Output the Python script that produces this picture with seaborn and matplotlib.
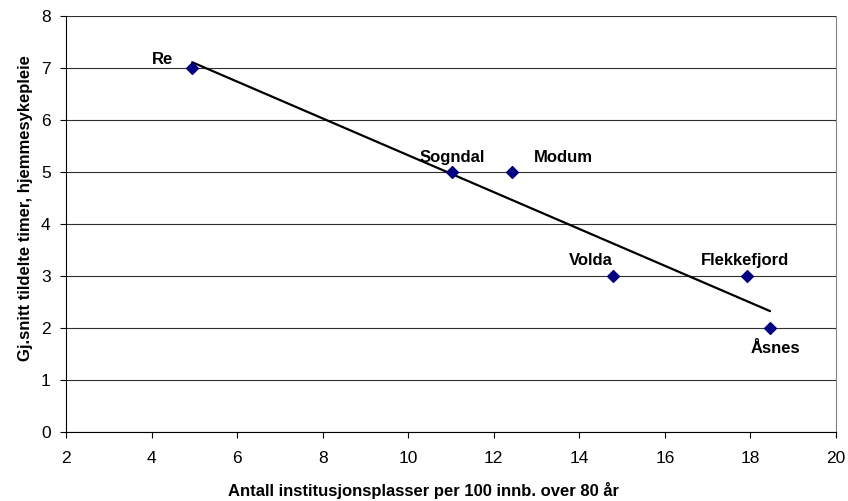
import pandas as pd
import seaborn as sns
import matplotlib.pyplot as plt

kommuner = ["Re", "Sogndal", "Modum", "Volda", "Flekkefjord", "Åsnes"]
plasser = [4.95, 11.02, 12.43, 14.79, 17.92, 18.46]  # institusjonsplasser per 100 innb. over 80 år
timer = [7, 5, 5, 3, 3, 2]  # gj.snitt tildelte timer hjemmesykepleie

df = pd.DataFrame({"kommune": kommuner, "plasser": plasser, "timer": timer})

sns.set_style("white")
plt.rcParams["font.family"] = ["Liberation Sans", "DejaVu Sans"]
plt.rcParams["text.color"] = "black"
plt.rcParams["xtick.color"] = "black"
plt.rcParams["ytick.color"] = "black"
plt.rcParams["axes.labelcolor"] = "black"

fig = plt.figure(figsize=(8.48, 5.01), dpi=100)
ax = fig.add_axes([0.0778, 0.1377, 0.908, 0.8303])

sns.regplot(data=df, x="plasser", y="timer", ax=ax, ci=None, truncate=True,
            marker="D", scatter_kws={"color": "#000080", "edgecolor": "#000080",
                                     "alpha": 1, "s": 36, "zorder": 3},
            line_kws={"color": "black", "lw": 1.6, "zorder": 2})

# etiketter (forskyvning i piksler)
offsets = {"Re": (-30, 9), "Sogndal": (0, 15), "Modum": (51, 15),
           "Volda": (-22, 16), "Flekkefjord": (-2, 16), "Åsnes": (5, -20)}
for k, x, y in zip(kommuner, plasser, timer):
    ax.annotate(k, (x, y), xytext=offsets[k], textcoords="offset pixels",
                ha="center", va="center", fontsize=12, fontweight="bold")

ax.set_xlim(2, 20)
ax.set_ylim(0, 8)
ax.set_xticks(range(2, 21, 2))
ax.set_yticks(range(0, 9))
ax.yaxis.grid(True, color="#303030", lw=0.8)
ax.set_axisbelow(True)
for s in ["left", "bottom"]:
    ax.spines[s].set_color("black")
ax.spines["top"].set_visible(False)
ax.spines["right"].set_color("#808080")
ax.tick_params(axis="both", direction="out", length=4, width=0.8, labelsize=12.5,
               bottom=True, left=True, color="black")
ax.tick_params(axis="x", pad=10)
ax.tick_params(axis="y", pad=7)
ax.set_xlabel("Antall institusjonsplasser per 100 innb. over 80 år", fontsize=12, fontweight="bold")
ax.set_ylabel("Gj.snitt tildelte timer, hjemmesykepleie", fontsize=12, fontweight="bold")
ax.xaxis.set_label_coords(0.5, 0.02, transform=fig.transFigure)
ax.xaxis.label.set_va("center")
ax.yaxis.set_label_coords(0.0295, 0.585, transform=fig.transFigure)
ax.yaxis.label.set_va("center")

fig.savefig("out.png", dpi=100)
